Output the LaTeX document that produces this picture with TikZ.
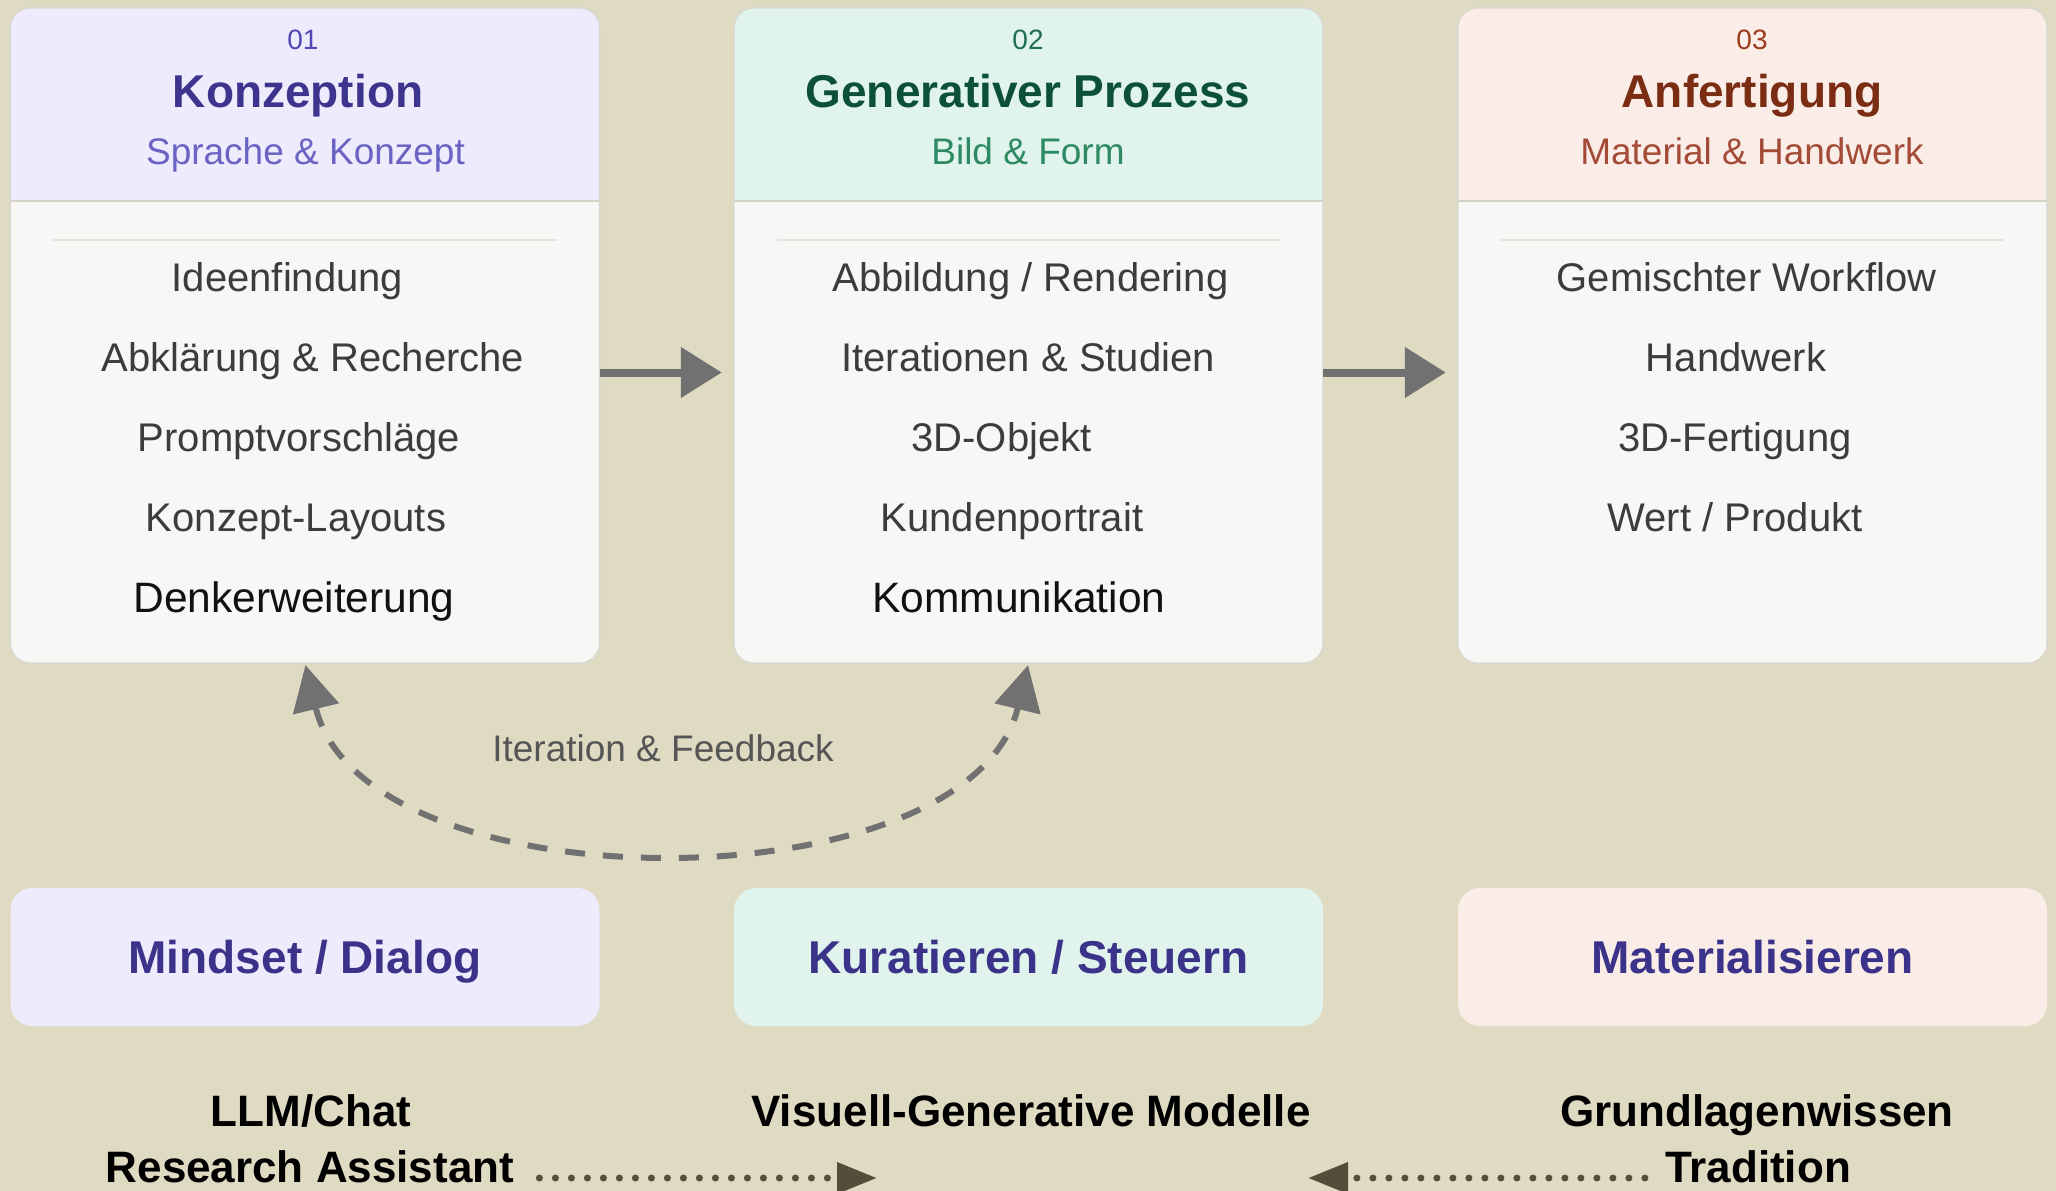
\documentclass[tikz,border=0pt]{standalone}
\usepackage{fontspec}
\setmainfont{Liberation Sans}
\usetikzlibrary{arrows.meta}
\definecolor{bg}{HTML}{DFDBC3}
\definecolor{body}{HTML}{F7F7F5}
\definecolor{cardline}{HTML}{D9D8D0}
\definecolor{hdrline}{HTML}{D6D3C6}
\definecolor{sepc}{HTML}{E4E3DE}
\definecolor{hdA}{HTML}{EDEBFC}
\definecolor{hdB}{HTML}{E0F3EC}
\definecolor{hdC}{HTML}{FAECE7}
\definecolor{nA}{HTML}{5148B5}
\definecolor{tA}{HTML}{3D348E}
\definecolor{sA}{HTML}{6B63C3}
\definecolor{nB}{HTML}{1F6E52}
\definecolor{tB}{HTML}{0C503C}
\definecolor{sB}{HTML}{2D8A62}
\definecolor{nC}{HTML}{9C3B1E}
\definecolor{tC}{HTML}{7A2D13}
\definecolor{sC}{HTML}{A44B37}
\definecolor{itemc}{HTML}{3C3C3C}
\definecolor{itemlast}{HTML}{111111}
\definecolor{arr}{HTML}{717171}
\definecolor{fbtext}{HTML}{555555}
\definecolor{dotc}{HTML}{534D3A}
\definecolor{mtxt}{HTML}{3B3289}
\begin{document}
\begin{tikzpicture}[x=1pt,y=-1pt,
  card/.style={rectangle, rounded corners=20pt, fill=body, minimum width=589pt, minimum height=655pt, inner sep=0pt},
  pill/.style={rectangle, rounded corners=22pt, minimum width=589pt, minimum height=138pt, inner sep=0pt,
     text=mtxt, font=\fontsize{46}{55}\selectfont\bfseries, text height=34pt, text depth=2pt},
  numtxt/.style={anchor=base, inner sep=0pt, font=\fontsize{28}{34}\selectfont},
  ttltxt/.style={anchor=base, inner sep=0pt, font=\fontsize{46}{55}\selectfont\bfseries},
  subtxt/.style={anchor=base, inner sep=0pt, font=\fontsize{37}{44}\selectfont},
  itmtxt/.style={anchor=base, inner sep=0pt, font=\fontsize{40}{48}\selectfont, text=itemc},
  lasttxt/.style={anchor=base, inner sep=0pt, font=\fontsize{42.5}{50}\selectfont, text=itemlast},
  lbltxt/.style={anchor=base, inner sep=0pt, font=\fontsize{44}{53}\selectfont\bfseries, text=black},
  fbltxt/.style={anchor=base, inner sep=0pt, font=\fontsize{37}{44}\selectfont, text=fbtext},
  flow/.style={line width=8pt, draw=arr, -{Triangle[length=41pt,width=49pt]}, shorten >=12pt},
  fbarrow/.style={line width=6pt, draw=arr, dash pattern=on 20pt off 18pt, {Triangle[length=45pt,width=46pt]}-{Triangle[length=45pt,width=46pt]}, shorten <=2pt, shorten >=2pt},
  dotarrow/.style={line width=7pt, draw=dotc, line cap=round, dash pattern=on 0pt off 16pt, -{Triangle[length=40pt,width=30pt]}},
  cardborder/.style={draw=cardline, line width=1.5pt, rounded corners=20pt},
  hdrsep/.style={draw=hdrline, line width=2pt},
  bodysep/.style={draw=sepc, line width=2pt}
]
\useasboundingbox[fill=bg] (0,0) rectangle (2056,1191);

% cards
\node[card] (k1) at (305,335.5) {};
\node[card] (k2) at (1028.5,335.5) {};
\node[card] (k3) at (1752.5,335.5) {};

\begin{scope}
\clip (k1.north west) rectangle ([yshift=-193pt]k1.north east);
\fill[hdA, rounded corners=20pt] (k1.north west) rectangle (k1.south east);
\end{scope}
\begin{scope}
\clip (k2.north west) rectangle ([yshift=-193pt]k2.north east);
\fill[hdB, rounded corners=20pt] (k2.north west) rectangle (k2.south east);
\end{scope}
\begin{scope}
\clip (k3.north west) rectangle ([yshift=-193pt]k3.north east);
\fill[hdC, rounded corners=20pt] (k3.north west) rectangle (k3.south east);
\end{scope}

\foreach \k in {k1,k2,k3}{
  \draw[hdrsep] ([yshift=-193pt]\k.north west) -- ([yshift=-193pt]\k.north east);
  \draw[bodysep] ([xshift=43pt,yshift=-232pt]\k.north west) -- ([xshift=-43pt,yshift=-232pt]\k.north east);
  \draw[cardborder] (\k.north west) rectangle (\k.south east);
}

% headers
\node[numtxt, text=nA] (h1n) at (303,49) {01};
\node[ttltxt, text=tA] (h1t) at (298,107) {Konzeption};
\node[subtxt, text=sA] (h1s) at (305.5,164) {Sprache \& Konzept};
\node[numtxt, text=nB] (h2n) at (1028,49) {02};
\node[ttltxt, text=tB] (h2t) at (1028,107) {Generativer Prozess};
\node[subtxt, text=sB] (h2s) at (1028,164) {Bild \& Form};
\node[numtxt, text=nC] (h3n) at (1752,49) {03};
\node[ttltxt, text=tC] (h3t) at (1752,107) {Anfertigung};
\node[subtxt, text=sC] (h3s) at (1752,164) {Material \& Handwerk};

% items
\node[itmtxt] (i11) at (287.5,291) {Ideenfindung};
\node[itmtxt] (i12) at (313,371) {Abklärung \& Recherche};
\node[itmtxt] (i13) at (299,451) {Promptvorschläge};
\node[itmtxt] (i14) at (296,531) {Konzept-Layouts};
\node[lasttxt] (i15) at (294,612) {Denkerweiterung};

\node[itmtxt] (i21) at (1030.5,291) {Abbildung / Rendering};
\node[itmtxt] (i22) at (1028,371) {Iterationen \& Studien};
\node[itmtxt] (i23) at (1001.5,451) {3D-Objekt};
\node[itmtxt] (i24) at (1012,531) {Kundenportrait};
\node[lasttxt] (i25) at (1019,612) {Kommunikation};

\node[itmtxt] (i31) at (1746.5,291) {Gemischter Workflow};
\node[itmtxt] (i32) at (1736,371) {Handwerk};
\node[itmtxt] (i33) at (1735,451) {3D-Fertigung};
\node[itmtxt] (i34) at (1735,531) {Wert / Produkt};

% flow arrows
\draw[flow] ([yshift=-37pt]k1.east) -- ([yshift=-37pt]k2.west);
\draw[flow] ([yshift=-37pt]k2.east) -- ([yshift=-37pt]k3.west);

% feedback loop
\draw[fbarrow] (k1.south) .. controls +(59,245) and +(-59,245) .. (k2.south);
\node[fbltxt] (fbl) at (663,761) {Iteration \& Feedback};

% bottom boxes
\node[pill, fill=hdA] (m1) at (305,957) {Mindset / Dialog};
\node[pill, fill=hdB] (m2) at (1028.5,957) {Kuratieren / Steuern};
\node[pill, fill=hdC] (m3) at (1752.5,957) {Materialisieren};

% bottom labels
\node[lbltxt] (llm) at (311,1126) {LLM/Chat};
\node[lbltxt] (ra) at (310,1182) {Research Assistant};
\node[lbltxt] (vgm) at (1031,1126) {Visuell-Generative Modelle};
\node[lbltxt] (gw) at (1757,1126) {Grundlagenwissen};
\node[lbltxt] (trad) at (1758,1182) {Tradition};

\coordinate (vgmL) at (877,1178);
\coordinate (vgmR) at (1308,1178);
\draw[dotarrow, shorten <=25pt] (ra.east |- vgmL) -- (vgmL);
\draw[dotarrow, shorten <=20pt] (trad.west |- vgmR) -- (vgmR);
\end{tikzpicture}
\end{document}
